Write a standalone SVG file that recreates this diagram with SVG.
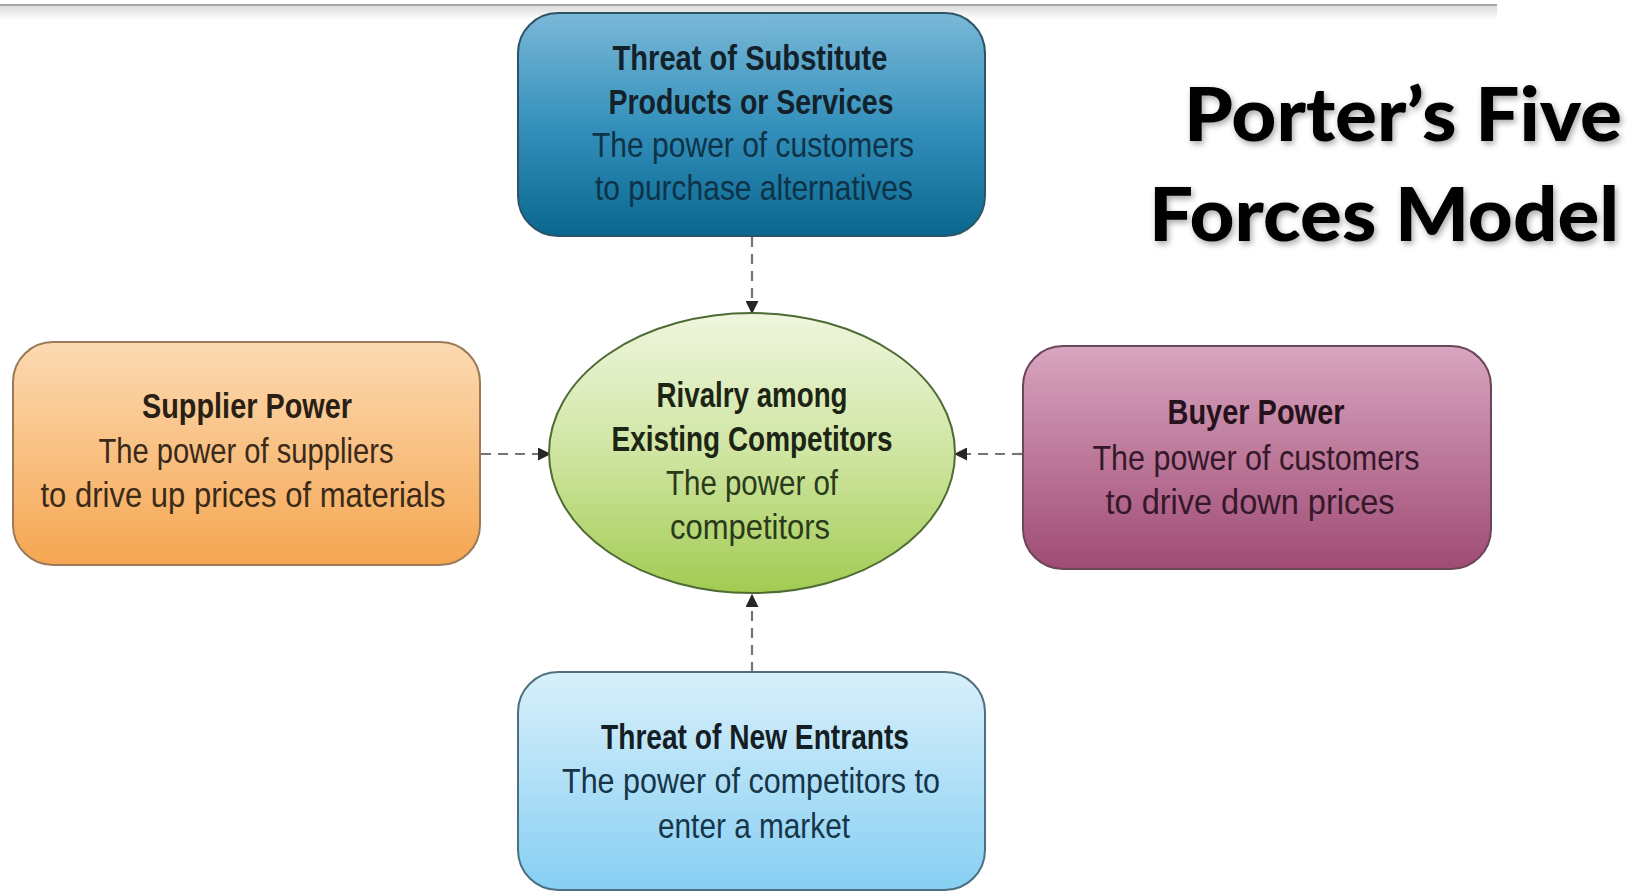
<svg xmlns="http://www.w3.org/2000/svg" width="1646" height="892" viewBox="0 0 1646 892">
<defs>
<linearGradient id="gTop" x1="0" y1="0" x2="0" y2="1"><stop offset="0" stop-color="#7ab8d8"/><stop offset="0.5" stop-color="#3591bc"/><stop offset="1" stop-color="#09678f"/></linearGradient>
<linearGradient id="gLeft" x1="0" y1="0" x2="0" y2="1"><stop offset="0" stop-color="#fcdab2"/><stop offset="1" stop-color="#f5a651"/></linearGradient>
<linearGradient id="gEll" x1="0" y1="0" x2="0" y2="1"><stop offset="0" stop-color="#eff6de"/><stop offset="0.5" stop-color="#cfe5a2"/><stop offset="1" stop-color="#a2cb52"/></linearGradient>
<linearGradient id="gRight" x1="0" y1="0" x2="0" y2="1"><stop offset="0" stop-color="#d8a5bf"/><stop offset="1" stop-color="#a04b74"/></linearGradient>
<linearGradient id="gBot" x1="0" y1="0" x2="0" y2="1"><stop offset="0" stop-color="#d9f0fb"/><stop offset="1" stop-color="#86cff3"/></linearGradient>
<linearGradient id="gShade" x1="0" y1="0" x2="0" y2="1"><stop offset="0" stop-color="#dcdcdc"/><stop offset="1" stop-color="#ffffff"/></linearGradient>
<filter id="glow" x="-10%" y="-20%" width="120%" height="140%"><feGaussianBlur in="SourceAlpha" stdDeviation="3"/><feOffset dx="2" dy="3"/><feComponentTransfer><feFuncA type="linear" slope="0.35"/></feComponentTransfer><feMerge><feMergeNode/><feMergeNode in="SourceGraphic"/></feMerge></filter>
<marker id="arr" viewBox="0 0 13 13" refX="12" refY="6.5" markerWidth="13" markerHeight="13" markerUnits="userSpaceOnUse" orient="auto"><path d="M0,0 L13,6.5 L0,13 Z" fill="#262626"/></marker>
<style>
.h{font-family:"Liberation Sans",Arial,sans-serif;font-weight:bold;font-size:35px;text-anchor:middle}
.b{font-family:"Liberation Sans",Arial,sans-serif;font-size:35px;text-anchor:middle}
.t{font-family:Lato,"Open Sans",sans-serif;font-weight:900;font-size:74px;text-anchor:end;fill:#000}
.c{fill:none;stroke:#747474;stroke-width:2.2;stroke-dasharray:10 7;marker-end:url(#arr)}
</style>
</defs>
<rect width="1646" height="892" fill="#fff"/>
<rect x="0" y="6" width="1497" height="14" fill="url(#gShade)"/>
<line x1="0" y1="5" x2="1497" y2="5" stroke="#a6a6a6" stroke-width="2"/>

<g id="title" filter="url(#glow)">
<text class="t" x="1622" y="141" textLength="438" lengthAdjust="spacingAndGlyphs">Porter’s Five</text>
<text class="t" x="1619" y="241" textLength="470" lengthAdjust="spacingAndGlyphs">Forces Model</text>
</g>

<g id="connectors">
<line class="c" x1="752" y1="237" x2="752" y2="313"/>
<line class="c" x1="752" y1="672" x2="752" y2="595"/>
<line class="c" x1="481" y1="454" x2="550" y2="454"/>
<line class="c" x1="1022" y1="454" x2="955" y2="454"/>
</g>

<g id="substitutes">
<rect x="518" y="13" width="467" height="223" rx="40" fill="url(#gTop)" stroke="#2c5468" stroke-width="2"/>
<text class="h" x="750" y="70" fill="#13212a" textLength="275" lengthAdjust="spacingAndGlyphs">Threat of Substitute</text>
<text class="h" x="751" y="114" fill="#13212a" textLength="285" lengthAdjust="spacingAndGlyphs">Products or Services</text>
<text class="b" x="753" y="157" fill="#0e3247" textLength="322" lengthAdjust="spacingAndGlyphs">The power of customers</text>
<text class="b" x="754" y="200" fill="#0e3247" textLength="318" lengthAdjust="spacingAndGlyphs">to purchase alternatives</text>
</g>

<g id="supplier">
<rect x="13" y="342" width="467" height="223" rx="40" fill="url(#gLeft)" stroke="#9a7a58" stroke-width="2"/>
<text class="h" x="247" y="418" fill="#2a1f14" textLength="210" lengthAdjust="spacingAndGlyphs">Supplier Power</text>
<text class="b" x="246" y="463" fill="#3a2a1a" textLength="295" lengthAdjust="spacingAndGlyphs">The power of suppliers</text>
<text class="b" x="243" y="507" fill="#3a2a1a" textLength="405" lengthAdjust="spacingAndGlyphs">to drive up prices of materials</text>
</g>

<g id="rivalry">
<ellipse cx="752" cy="453" rx="203" ry="140" fill="url(#gEll)" stroke="#4f6b34" stroke-width="2"/>
<text class="h" x="752" y="407" fill="#1c2414" textLength="191" lengthAdjust="spacingAndGlyphs">Rivalry among</text>
<text class="h" x="752" y="451" fill="#1c2414" textLength="281" lengthAdjust="spacingAndGlyphs">Existing Competitors</text>
<text class="b" x="752" y="495" fill="#2a3a1a" textLength="172" lengthAdjust="spacingAndGlyphs">The power of</text>
<text class="b" x="750" y="539" fill="#2a3a1a" textLength="160" lengthAdjust="spacingAndGlyphs">competitors</text>
</g>

<g id="buyer">
<rect x="1023" y="346" width="468" height="223" rx="40" fill="url(#gRight)" stroke="#6b4558" stroke-width="2"/>
<text class="h" x="1256" y="424" fill="#26121c" textLength="177" lengthAdjust="spacingAndGlyphs">Buyer Power</text>
<text class="b" x="1256" y="470" fill="#35182a" textLength="327" lengthAdjust="spacingAndGlyphs">The power of customers</text>
<text class="b" x="1250" y="514" fill="#35182a" textLength="289" lengthAdjust="spacingAndGlyphs">to drive down prices</text>
</g>

<g id="entrants">
<rect x="518" y="672" width="467" height="218" rx="40" fill="url(#gBot)" stroke="#4f6e80" stroke-width="2"/>
<text class="h" x="755" y="749" fill="#141e24" textLength="308" lengthAdjust="spacingAndGlyphs">Threat of New Entrants</text>
<text class="b" x="751" y="793" fill="#163548" textLength="378" lengthAdjust="spacingAndGlyphs">The power of competitors to</text>
<text class="b" x="754" y="838" fill="#163548" textLength="192" lengthAdjust="spacingAndGlyphs">enter a market</text>
</g>
</svg>
